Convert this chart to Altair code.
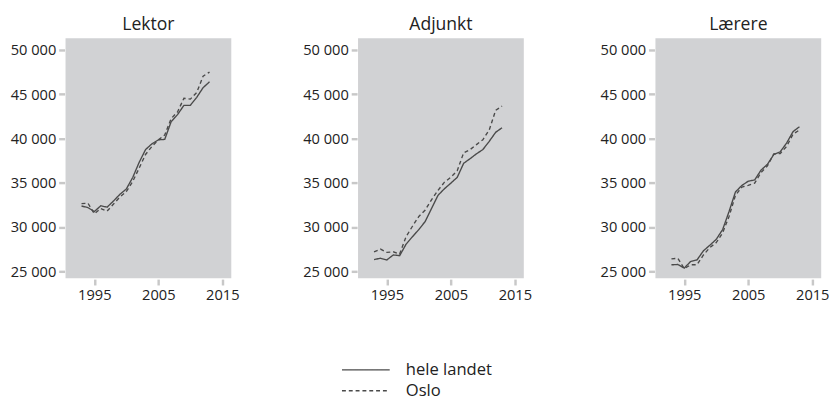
import altair as alt
import pandas as pd

years = list(range(1993, 2014))

lektor_hele = [32375, 32200, 31750, 32400, 32250, 32950, 33700, 34300, 35600, 37300,
               38750, 39400, 39850, 39900, 41900, 42700, 43750, 43750, 44650, 45750, 46400]
lektor_oslo = [32650, 32700, 31500, 32100, 31800, 32600, 33400, 34000, 35150, 36650,
               38200, 39100, 39850, 40400, 42250, 43000, 44550, 44450, 45200, 47050, 47500]

adjunkt_hele = [26330, 26480, 26290, 26850, 26770, 28060, 28910, 29720, 30640, 32120,
                33590, 34330, 34960, 35620, 37200, 37720, 38270, 38750, 39680, 40700, 41220]
adjunkt_oslo = [27210, 27510, 27140, 27210, 26950, 28910, 30090, 31200, 31930, 33110,
                34150, 35070, 35620, 36360, 38390, 38750, 39310, 39860, 40970, 43180, 43660]

laerere_hele = [25740, 25770, 25370, 26110, 26290, 27320, 27950, 28610, 29720, 31750,
                33960, 34700, 35180, 35320, 36430, 37090, 38200, 38500, 39490, 40780, 41330]
laerere_oslo = [26400, 26480, 25300, 25740, 25740, 26850, 27690, 28240, 29350, 31190,
                33590, 34510, 34700, 34960, 36170, 36910, 38270, 38310, 39120, 40490, 40970]

series_names = ["hele landet", "Oslo"]
panels = [
    ("Lektor", lektor_hele, lektor_oslo),
    ("Adjunkt", adjunkt_hele, adjunkt_oslo),
    ("Lærere", laerere_hele, laerere_oslo),
]
y_ticks = [25000, 30000, 35000, 40000, 45000, 50000]
x_ticks = [1995, 2005, 2015]

FONT = "Open Sans"
LINE = "#4a4a4a"
TXT = "#222222"
TICK = "#c8c8c8"


def panel(title, hele, oslo):
    rows = []
    for yr, v in zip(years, hele):
        rows.append({"year": yr, "value": v, "serie": series_names[0]})
    for yr, v in zip(years, oslo):
        rows.append({"year": yr, "value": v, "serie": series_names[1]})
    df = pd.DataFrame(rows)
    return (
        alt.Chart(df, title=alt.TitleParams(title, fontSize=18, font=FONT,
                                            fontWeight="normal", color=TXT, offset=4))
        .mark_line(color=LINE, strokeWidth=1.4)
        .encode(
            x=alt.X("year:Q", title=None,
                    scale=alt.Scale(domain=[1990.5, 2016.4], nice=False, zero=False),
                    axis=alt.Axis(values=x_ticks, format="d", grid=False, domain=False,
                                  tickColor=TICK, tickSize=6, tickWidth=2.5, offset=1,
                                  labelFont=FONT, labelFontSize=15, labelColor=TXT,
                                  labelPadding=3)),
            y=alt.Y("value:Q", title=None,
                    scale=alt.Scale(domain=[24230, 51320], nice=False, zero=False),
                    axis=alt.Axis(values=y_ticks, grid=False, domain=False,
                                  tickColor=TICK, tickSize=6, tickWidth=2.5, offset=1,
                                  labelFont=FONT, labelFontSize=15, labelColor=TXT,
                                  labelPadding=3,
                                  labelExpr="replace(format(datum.value, ','), ',', ' ')")),
            strokeDash=alt.StrokeDash(
                "serie:N", title=None,
                scale=alt.Scale(domain=series_names, range=[[1, 0], [4, 3]]),
                legend=alt.Legend(orient="none", legendX=298, legendY=330,
                                  direction="vertical",
                                  symbolType="M-2.72,0H2.72", symbolSize=324,
                                  symbolStrokeColor=LINE, symbolStrokeWidth=1.4,
                                  labelFont=FONT, labelFontSize=17, labelColor=TXT,
                                  labelOffset=31, rowPadding=3.5)),
        )
        .properties(width=170, height=246)
    )


c1, c2, c3 = [panel(*p) for p in panels]
chart = (
    alt.hconcat(alt.hconcat(c1, c2, spacing=65), c3, spacing=70)
    .properties(padding={"left": 2, "right": 0, "top": 4, "bottom": 0})
    .configure_view(fill="#d1d2d4", stroke=None)
)

chart.save("out.html", embed_options={"renderer": "svg", "actions": False})
